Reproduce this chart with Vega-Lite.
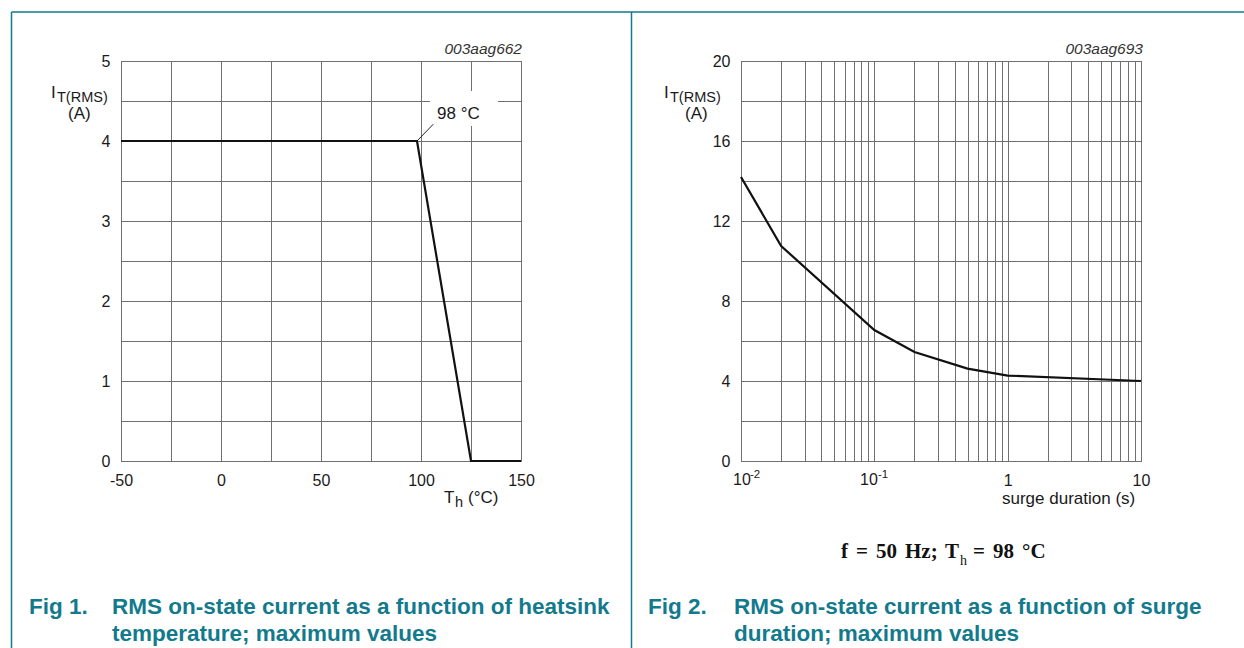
{
  "$schema": "https://vega.github.io/schema/vega-lite/v6.json",
  "padding": {"left": 10, "top": 10, "right": 0, "bottom": 0},
  "bounds": "flush",
  "spacing": 220,
  "background": "white",
  "config": {
    "view": {"stroke": "#555555", "strokeWidth": 1},
    "axis": {
      "gridColor": "#707070", "gridOpacity": 1, "gridWidth": 1,
      "domain": false, "ticks": false, "labelFlush": false,
      "labelFont": "Liberation Sans", "labelFontSize": 16, "labelColor": "#1a1a1a"
    }
  },
  "datasets": {
    "heat": [{"x": -50, "y": 4}, {"x": 98, "y": 4}, {"x": 125, "y": 0}, {"x": 150, "y": 0}],
    "frameL": [
      {"x": -104.75, "y": 5.6125, "x2": 511.5, "y2": 5.6125},
      {"x": -104.75, "y": 5.6125, "x2": -104.75, "y2": -2.3375},
      {"x": 205.25, "y": 5.6125, "x2": 205.25, "y2": -2.3375}
    ],
    "maskL": [{"x": 104.5, "y": 4.625, "x2": 138.5, "y2": 4.1875}],
    "leaderL": [{"x": 98, "y": 4, "x2": 106.15, "y2": 4.21}],
    "txtL": [
      {"x": -85, "y": 4.5375, "text": "I"},
      {"x": -76.5, "y": 4.275, "text": "(A)"},
      {"x": 108, "y": 4.275, "text": "98 °C"},
      {"x": 111.5, "y": -0.525, "text": "T"},
      {"x": 123.5, "y": -0.525, "text": "(°C)"}
    ],
    "subL": [
      {"x": -82, "y": 4.4875, "text": "T(RMS)"},
      {"x": 117, "y": -0.575, "text": "h"}
    ],
    "codeL": [{"x": 150.5, "y": 5.0875, "text": "003aag662"}],
    "capL": [
      {"x": -96, "y": -1.9125, "text": "Fig 1."},
      {"x": -54.5, "y": -1.9125, "text": "RMS on-state current as a function of heatsink"},
      {"x": -54.5, "y": -2.25, "text": "temperature; maximum values"}
    ],
    "surge": [
      {"x": 0.01, "y": 14.2}, {"x": 0.02, "y": 10.75}, {"x": 0.1, "y": 6.55},
      {"x": 0.2, "y": 5.45}, {"x": 0.5, "y": 4.62}, {"x": 1, "y": 4.27}, {"x": 10, "y": 4.0}
    ],
    "txtR": [
      {"x": 0.002646, "y": 18.15, "text": "I"},
      {"x": 0.0038, "y": 17.1, "text": "(A)"},
      {"x": 0.9068, "y": -2.15, "text": "surge duration (s)"}
    ],
    "subR": [{"x": 0.002935, "y": 17.95, "text": "T(RMS)"}],
    "codeR": [{"x": 10.35, "y": 20.35, "text": "003aag693"}],
    "decR": [
      {"x": 0.00871, "y": -1.2, "text": "10"},
      {"x": 0.07805, "y": -1.2, "text": "10"}
    ],
    "expR": [
      {"x": 0.011682, "y": -0.85, "text": "-2"},
      {"x": 0.10654, "y": -0.85, "text": "-1"}
    ],
    "capR": [
      {"x": 0.002007, "y": -7.65, "text": "Fig 2."},
      {"x": 0.008861, "y": -7.65, "text": "RMS on-state current as a function of surge"},
      {"x": 0.008861, "y": -9.0, "text": "duration; maximum values"}
    ],
    "serR": [
      {"x": 0.05623, "y": -4.85, "text": "f"},
      {"x": 0.07286, "y": -4.85, "text": "="},
      {"x": 0.10292, "y": -4.85, "text": "50"},
      {"x": 0.16982, "y": -4.85, "text": "Hz;"},
      {"x": 0.33884, "y": -4.85, "text": "T"},
      {"x": 0.54954, "y": -4.85, "text": "="},
      {"x": 0.77625, "y": -4.85, "text": "98"},
      {"x": 1.2809, "y": -4.85, "text": "°C"}
    ],
    "serSubR": [{"x": 0.43903, "y": -5.2, "text": "h"}]
  },
  "hconcat": [
    {
      "width": 400,
      "height": 400,
      "encoding": {
        "x": {
          "field": "x", "type": "quantitative",
          "scale": {"domain": [-50, 150], "nice": false, "zero": false},
          "axis": {
            "title": null,
            "values": [-50, -25, 0, 25, 50, 75, 100, 125, 150],
            "labelExpr": "datum.value % 50 == 0 ? '' + datum.value : ''",
            "labelPadding": 11
          }
        },
        "y": {
          "field": "y", "type": "quantitative",
          "scale": {"domain": [0, 5], "nice": false, "zero": false},
          "axis": {
            "title": null,
            "values": [0, 0.5, 1, 1.5, 2, 2.5, 3, 3.5, 4, 4.5, 5],
            "labelExpr": "datum.value % 1 == 0 ? '' + datum.value : ''",
            "labelPadding": 11
          }
        }
      },
      "layer": [
        {
          "data": {"name": "maskL"},
          "mark": {"type": "rect", "fill": "white", "stroke": null},
          "encoding": {"x2": {"field": "x2"}, "y2": {"field": "y2"}}
        },
        {
          "data": {"name": "frameL"},
          "mark": {"type": "rule", "color": "#127a8c", "strokeWidth": 1.5},
          "encoding": {"x2": {"field": "x2"}, "y2": {"field": "y2"}}
        },
        {
          "data": {"name": "leaderL"},
          "mark": {"type": "rule", "color": "#222222", "strokeWidth": 1},
          "encoding": {"x2": {"field": "x2"}, "y2": {"field": "y2"}}
        },
        {
          "data": {"name": "heat"},
          "mark": {"type": "line", "color": "#111111", "strokeWidth": 2.2}
        },
        {
          "data": {"name": "txtL"},
          "mark": {"type": "text", "align": "left", "baseline": "alphabetic", "font": "Liberation Sans", "fontSize": 17, "color": "#1a1a1a"},
          "encoding": {"text": {"field": "text"}}
        },
        {
          "data": {"name": "subL"},
          "mark": {"type": "text", "align": "left", "baseline": "alphabetic", "font": "Liberation Sans", "fontSize": 14.5, "color": "#1a1a1a"},
          "encoding": {"text": {"field": "text"}}
        },
        {
          "data": {"name": "codeL"},
          "mark": {"type": "text", "align": "right", "baseline": "alphabetic", "font": "Liberation Sans", "fontSize": 15.5, "fontStyle": "italic", "color": "#333333"},
          "encoding": {"text": {"field": "text"}}
        },
        {
          "data": {"name": "capL"},
          "mark": {"type": "text", "align": "left", "baseline": "alphabetic", "font": "Liberation Sans", "fontSize": 22.5, "fontWeight": "bold", "color": "#127a8c"},
          "encoding": {"text": {"field": "text"}}
        }
      ]
    },
    {
      "width": 400,
      "height": 400,
      "encoding": {
        "x": {
          "field": "x", "type": "quantitative",
          "scale": {"type": "log", "domain": [0.01, 10], "nice": false},
          "axis": {
            "title": null,
            "values": [0.01, 0.02, 0.03, 0.04, 0.05, 0.06, 0.07, 0.08, 0.09, 0.1, 0.2, 0.3, 0.4, 0.5, 0.6, 0.7, 0.8, 0.9, 1, 2, 3, 4, 5, 6, 7, 8, 9, 10],
            "labelExpr": "datum.value == 1 ? '1' : datum.value == 10 ? '10' : ''",
            "labelPadding": 11
          }
        },
        "y": {
          "field": "y", "type": "quantitative",
          "scale": {"domain": [0, 20], "nice": false, "zero": false},
          "axis": {
            "title": null,
            "values": [0, 2, 4, 6, 8, 10, 12, 14, 16, 18, 20],
            "labelExpr": "datum.value % 4 == 0 ? '' + datum.value : ''",
            "labelPadding": 11
          }
        }
      },
      "layer": [
        {
          "data": {"name": "surge"},
          "mark": {"type": "line", "color": "#111111", "strokeWidth": 2.2}
        },
        {
          "data": {"name": "txtR"},
          "mark": {"type": "text", "align": "left", "baseline": "alphabetic", "font": "Liberation Sans", "fontSize": 17, "color": "#1a1a1a"},
          "encoding": {"text": {"field": "text"}}
        },
        {
          "data": {"name": "subR"},
          "mark": {"type": "text", "align": "left", "baseline": "alphabetic", "font": "Liberation Sans", "fontSize": 14.5, "color": "#1a1a1a"},
          "encoding": {"text": {"field": "text"}}
        },
        {
          "data": {"name": "decR"},
          "mark": {"type": "text", "align": "left", "baseline": "alphabetic", "font": "Liberation Sans", "fontSize": 16, "color": "#1a1a1a"},
          "encoding": {"text": {"field": "text"}}
        },
        {
          "data": {"name": "expR"},
          "mark": {"type": "text", "align": "left", "baseline": "alphabetic", "font": "Liberation Sans", "fontSize": 11.5, "color": "#1a1a1a"},
          "encoding": {"text": {"field": "text"}}
        },
        {
          "data": {"name": "codeR"},
          "mark": {"type": "text", "align": "right", "baseline": "alphabetic", "font": "Liberation Sans", "fontSize": 15.5, "fontStyle": "italic", "color": "#333333"},
          "encoding": {"text": {"field": "text"}}
        },
        {
          "data": {"name": "capR"},
          "mark": {"type": "text", "align": "left", "baseline": "alphabetic", "font": "Liberation Sans", "fontSize": 22.5, "fontWeight": "bold", "color": "#127a8c"},
          "encoding": {"text": {"field": "text"}}
        },
        {
          "data": {"name": "serR"},
          "mark": {"type": "text", "align": "left", "baseline": "alphabetic", "font": "Liberation Serif", "fontSize": 21, "fontWeight": "bold", "color": "#111111"},
          "encoding": {"text": {"field": "text"}}
        },
        {
          "data": {"name": "serSubR"},
          "mark": {"type": "text", "align": "left", "baseline": "alphabetic", "font": "Liberation Serif", "fontSize": 14, "color": "#111111"},
          "encoding": {"text": {"field": "text"}}
        }
      ]
    }
  ]
}
